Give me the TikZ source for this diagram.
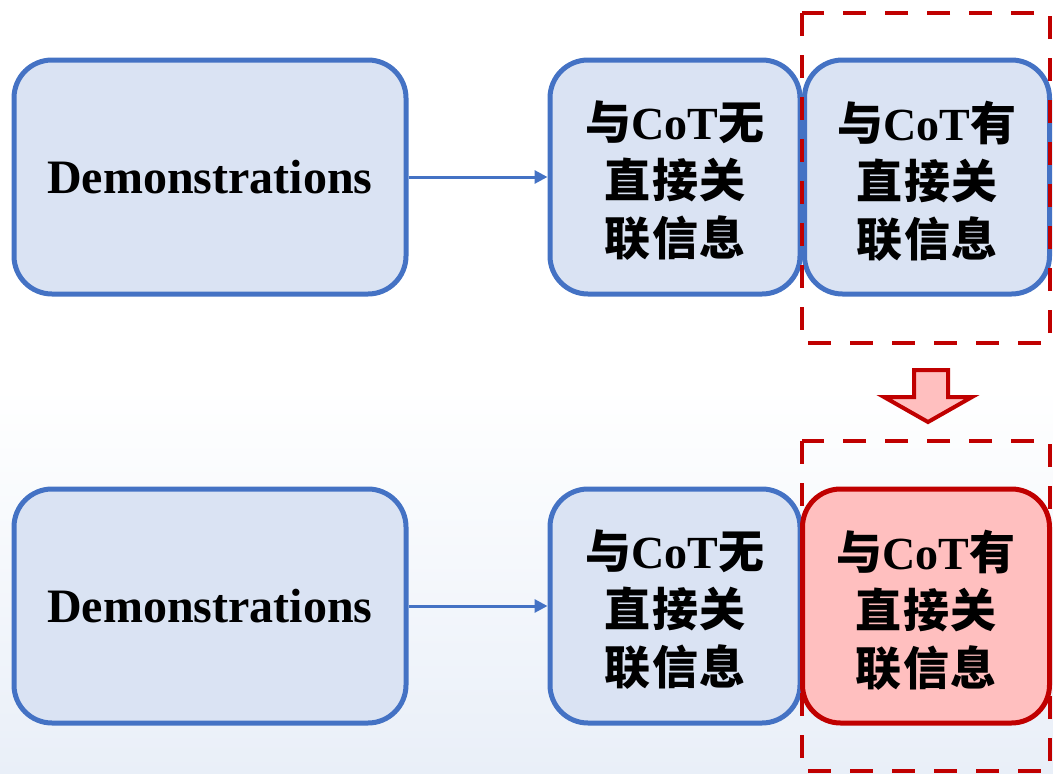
\documentclass[tikz,border=0pt]{standalone}
\usepackage{fontspec}
\setmainfont{Liberation Serif}
\newfontfamily\cjk{Noto Sans CJK SC}[LetterSpace=3]
\usetikzlibrary{arrows.meta}
\definecolor{bblue}{RGB}{68,114,196}
\definecolor{bfill}{RGB}{218,227,243}
\definecolor{rred}{RGB}{192,0,0}
\definecolor{rfill}{RGB}{255,191,191}
\definecolor{bgblue}{RGB}{233,239,248}
\tikzset{
  box/.style={draw=bblue, fill=bfill, line width=5pt, rounded corners=38pt,
    inner sep=0pt, minimum height=234pt, align=center, font=\fontsize{48}{57}\selectfont\bfseries},
  redbox/.style={box, draw=rred, fill=rfill},
  cottext/.style={inner sep=0pt, align=center, font=\fontsize{46}{58}\selectfont\bfseries},
  conn/.style={draw=bblue, line width=3pt, -{Triangle[length=13pt,width=13pt]}},
  dashbox/.style={draw=rred, line width=4.5pt, dash pattern=on 23pt off 19pt},
}
\newcommand{\cotlabel}[1]{{\cjk\bfseries 与}CoT{\cjk\bfseries #1}\\{\cjk\bfseries 直接关}\\{\cjk\bfseries 联信息}}
\begin{document}
\begin{tikzpicture}[x=1pt,y=-1pt]
\useasboundingbox (0,0) rectangle (1053,774);
\shade[top color=white, bottom color=bgblue, middle color=white] (0,0) rectangle (1053,774);
% top row
\node[box, minimum width=392pt] (d1) at (210,177) {Demonstrations};
\node[box, minimum width=250pt] (m1) at (675,177) {};
\node[cottext] (m1t) at ([yshift=-4pt]m1.center) {\cotlabel{无}};
\node[box, minimum width=245pt] (r1) at (927,177) {};
\node[cottext] (r1t) at ([yshift=-4pt]r1.center) {\cotlabel{有}};
\draw[conn] (d1) -- (d1 -| m1.west);
\draw[dashbox] (802,13) rectangle (1050,343);
% down arrow
\draw[draw=rred, fill=rfill, line width=4pt, line join=miter]
  (914,370) -- (948,370) -- (948,397) -- (972,397) -- (928,422) -- (884,397) -- (914,397) -- cycle;
% bottom row
\node[box, minimum width=392pt] (d2) at (210,606) {Demonstrations};
\node[box, minimum width=250pt] (m2) at (675,606) {};
\node[cottext] (m2t) at ([yshift=-4pt]m2.center) {\cotlabel{无}};
\node[redbox, minimum width=247pt] (r2) at (926,606) {};
\node[cottext] (r2t) at ([yshift=-4pt]r2.center) {\cotlabel{有}};
\draw[conn] (d2) -- (d2 -| m2.west);
\draw[dashbox] (802,441) rectangle (1050,771);
\end{tikzpicture}
\end{document}
